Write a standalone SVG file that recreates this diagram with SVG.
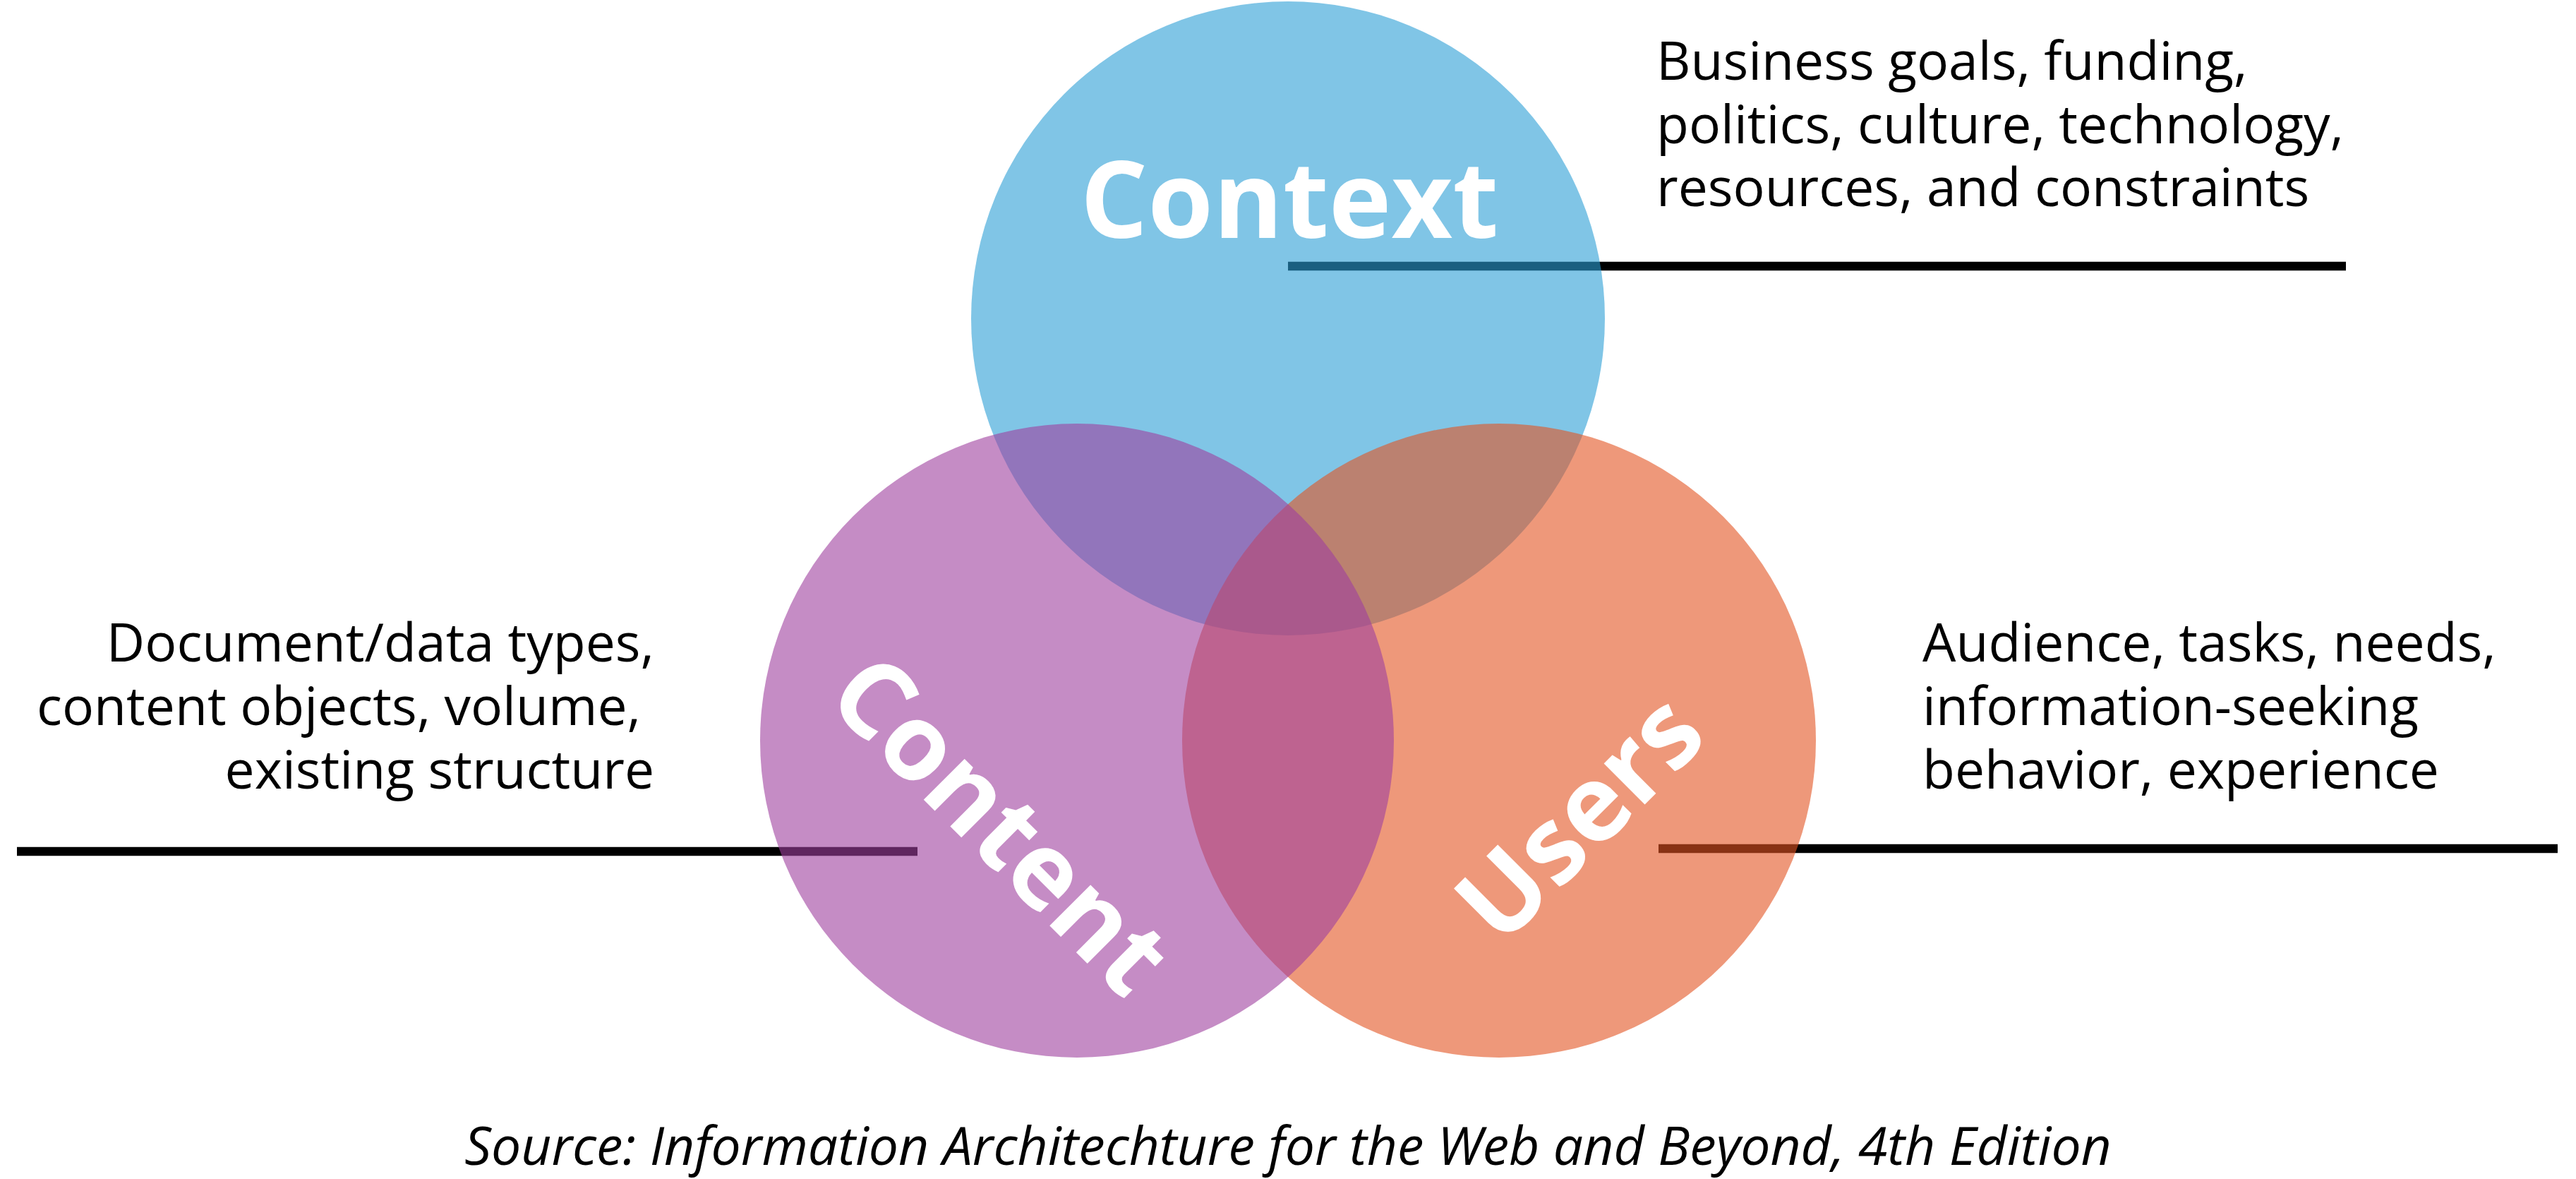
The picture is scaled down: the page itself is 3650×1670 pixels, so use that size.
<svg xmlns="http://www.w3.org/2000/svg" width="3650" height="1670" viewBox="0 0 3650 1670">
  <style>
    .lead { stroke: #000; stroke-width: 12.5; fill: none; }
    .ring { opacity: 0.6; }
    .title { font-family: "Open Sans", "Liberation Sans", sans-serif; font-weight: 700; font-size: 150px; fill: #fff; text-anchor: middle; }
    .desc { font-family: "Open Sans", "Liberation Sans", sans-serif; font-size: 75px; fill: #000; }
    .src { font-family: "Open Sans", "Liberation Sans", sans-serif; font-style: italic; font-size: 75px; fill: #000; text-anchor: middle; }
  </style>
  <rect width="3650" height="1670" fill="#fff"/>
  <g id="connectors">
    <line class="lead" x1="1825" y1="377" x2="3324" y2="377"/>
    <line class="lead" x1="24" y1="1206" x2="1300" y2="1206"/>
    <line class="lead" x1="2350" y1="1202" x2="3624" y2="1202"/>
  </g>
  <g id="node-context">
    <circle class="ring" cx="1825" cy="451" r="449" fill="#2b9ed5"/>
  </g>
  <g id="node-users">
    <circle class="ring" cx="2124" cy="1049" r="449" fill="#e35321"/>
  </g>
  <g id="node-content">
    <circle class="ring" cx="1526" cy="1049" r="449" fill="#9e3f9e"/>
  </g>
  <g id="labels">
    <text class="title" x="1827" y="337">Context</text>
    <text class="title" transform="translate(1381 1205) rotate(45)">Content</text>
    <text class="title" transform="translate(2275 1195) rotate(-45)">Users</text>
  </g>
  <g id="desc-context">
    <text class="desc" x="2347" y="113">Business goals, funding,</text>
    <text class="desc" x="2347" y="203">politics, culture, technology,</text>
    <text class="desc" x="2347" y="292">resources, and constraints</text>
  </g>
  <g id="desc-content" text-anchor="end">
    <text class="desc" x="927" y="937">Document/data types,</text>
    <text class="desc" x="908" y="1027">content objects, volume,</text>
    <text class="desc" x="927" y="1117">existing structure</text>
  </g>
  <g id="desc-users">
    <text class="desc" x="2724" y="937">Audience, tasks, needs,</text>
    <text class="desc" x="2724" y="1027">information-seeking</text>
    <text class="desc" x="2724" y="1117">behavior, experience</text>
  </g>
  <text class="src" x="1825" y="1650">Source: Information Architechture for the Web and Beyond, 4th Edition</text>
</svg>
